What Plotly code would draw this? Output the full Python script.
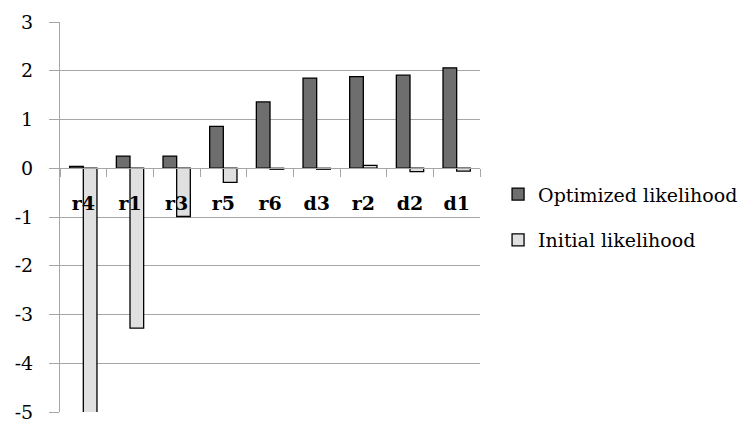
import plotly.graph_objects as go

categories = ["r4", "r1", "r3", "r5", "r6", "d3", "r2", "d2", "d1"]
optimized = [0.04, 0.25, 0.25, 0.86, 1.36, 1.85, 1.88, 1.91, 2.06]
initial = [-5.2, -3.28, -0.99, -0.29, -0.02, -0.02, 0.06, -0.07, -0.06]
y_tickvals = [3, 2, 1, 0, -1, -2, -3, -4, -5]
y_ticktext = ["3", "2", "1", "0", "-1", "-2", "-3", "-4", "-5"]

FONT = "DejaVu Serif"
GRID = "#a6a6a6"

fig = go.Figure()
fig.add_trace(go.Bar(
    x=categories, y=optimized, name="Optimized likelihood",
    marker=dict(color="#6e6e6e", line=dict(color="black", width=1.3)),
    legendgroup="a",
))
fig.add_trace(go.Bar(
    x=categories, y=initial, name="Initial likelihood",
    marker=dict(color="#e0e0e0", line=dict(color="black", width=1.3)),
    legendgroup="b",
))

fig.update_layout(
    width=750, height=421,
    margin=dict(l=60, r=270, t=22, b=9, autoexpand=False),
    paper_bgcolor="white", plot_bgcolor="white",
    barmode="group", bargap=0.415, bargroupgap=0,
    font=dict(family=FONT, size=19, color="black"),
    legend=dict(
        x=1.043, y=0.607, xanchor="left", yanchor="top",
        font=dict(family=FONT, size=19, color="black"),
        tracegroupgap=18, traceorder="grouped",
        itemclick=False,
    ),
    xaxis=dict(
        type="category", anchor="free", position=0.625,
        showline=True, linecolor=GRID, linewidth=1,
        ticks="outside", tickson="boundaries", ticklen=8, tickcolor=GRID,
        showgrid=False, ticklabelstandoff=18, automargin=False,
        tickfont=dict(family=FONT, size=19, weight="bold", color="black"),
    ),
    yaxis=dict(
        range=[-5, 3], tickvals=y_tickvals, ticktext=y_ticktext,
        showline=True, linecolor=GRID, linewidth=1,
        ticks="outside", ticklen=10, tickcolor=GRID,
        showgrid=True, gridcolor=GRID, gridwidth=1,
        zeroline=False, ticklabelstandoff=12, automargin=False,
        ticklabeloverflow="allow",
        tickfont=dict(family=FONT, size=19, color="black"),
    ),
)

fig.write_html(
    "out.html",
    config={"displayModeBar": False},
    post_script="document.body.style.margin='0';document.body.style.overflow='hidden';",
)
